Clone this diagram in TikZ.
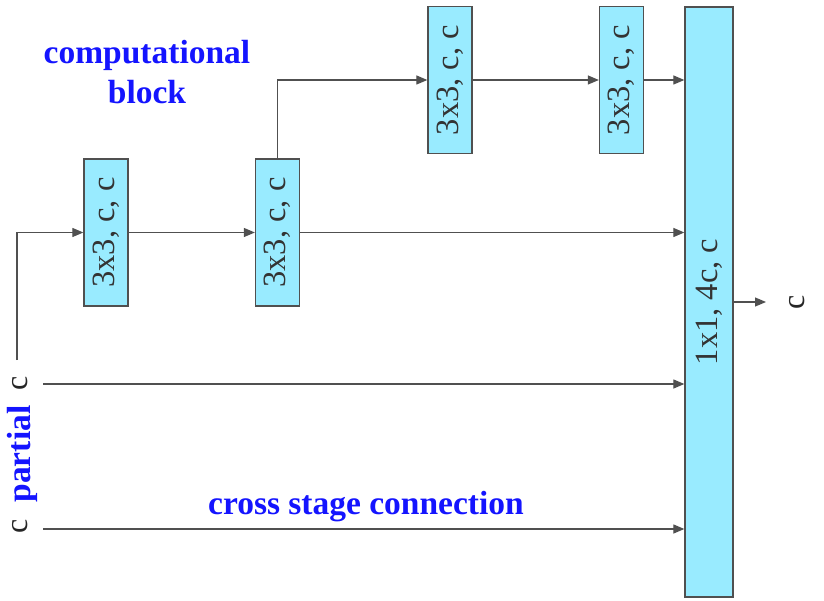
\documentclass[tikz,border=0pt]{standalone}
\usepackage{fontspec}
\setmainfont{Liberation Serif}
\usepackage{graphicx}
\usetikzlibrary{arrows.meta}
\definecolor{boxfill}{RGB}{153,235,255}
\definecolor{edge}{RGB}{80,80,80}
\definecolor{lbl}{RGB}{20,20,255}
\tikzset{
  blk/.style={draw=edge, line width=1.3pt, fill=boxfill, inner sep=0pt, minimum width=44pt, minimum height=147pt, font=\fontsize{32.5}{38}\selectfont, text=black!80},
  conn/.style={draw=edge, line width=1.2pt, -{Triangle[length=11pt,width=9pt]}},
  plain/.style={draw=edge, line width=1.2pt},
  blue/.style={text=lbl, font=\fontsize{33.5}{40}\selectfont\bfseries, align=center},
  clab/.style={font=\fontsize{32}{36}\selectfont, text=black!85, inner sep=0pt}
}
\begin{document}
\begin{tikzpicture}[x=1pt,y=-1pt]
\useasboundingbox (0,0) rectangle (824,601);
\node[blk] (b1) at (106,232.5) {\rotatebox{90}{3x3, c, c}};
\node[blk] (b2) at (277.5,232.5) {\rotatebox{90}{3x3, c, c}};
\node[blk] (b3) at (450,80) {\rotatebox{90}{3x3, c, c}};
\node[blk] (b4) at (621.5,80) {\rotatebox{90}{3x3, c, c}};
\node[blk, minimum width=48pt, minimum height=590pt] (big) at (709,302) {\rotatebox{90}{1x1, 4c, c}};
\node[blue] (cb) at (147,72) {computational\\block};
\node[blue] (csc) at (366,507) {cross stage connection};
\node[clab] (c1) at (20,383) {\rotatebox{90}{c}};
\node[blue, inner sep=0pt] (part) at (22,454) {\rotatebox{90}{partial}};
\node[clab] (c2) at (20,526) {\rotatebox{90}{c}};
\node[clab] (oc) at (797,302) {\rotatebox{90}{c}};
\coordinate (pc) at (17,360);
\coordinate (p1) at (43,384);
\coordinate (p2) at (43,529);
\coordinate (out) at (766,302);
\draw[conn] (pc) |- (b1.west);
\draw[conn] (b1.east) -- (b2.west);
\draw[conn] (b2.east) -- (big.west |- b2.east);
\draw[conn] (b2.north) |- (b3.west);
\draw[conn] (b3.east) -- (b4.west);
\draw[conn] (b4.east) -- (big.west |- b4.east);
\draw[conn] (p1) -- (big.west |- p1);
\draw[conn] (p2) -- (big.west |- p2);
\draw[conn] (big.east |- out) -- (out);
\end{tikzpicture}
\end{document}
